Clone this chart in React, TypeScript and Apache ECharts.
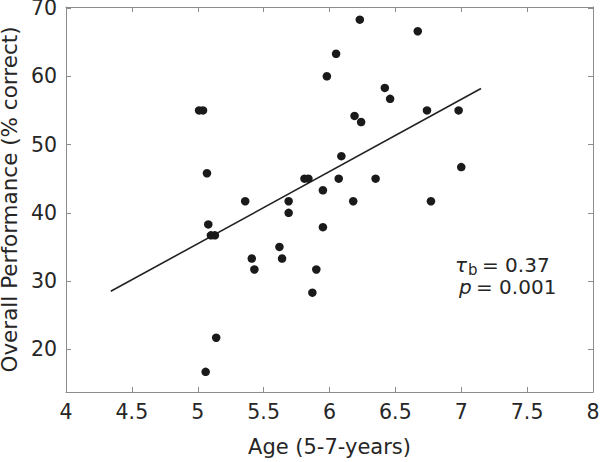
import React, { useEffect, useRef } from "react";
import * as echarts from "echarts";

const ages: number[] = [
  5.01, 5.04, 5.98, 5.07, 5.36, 5.69, 5.69, 5.81, 5.84, 5.95, 5.08, 5.95,
  6.23, 6.67, 6.05, 6.42, 6.46, 6.74, 6.98, 6.19, 6.24, 6.09, 7.0, 6.07,
  6.35, 6.18, 6.77, 5.1, 5.13, 5.62, 5.41, 5.64, 5.43, 5.9, 5.87, 5.14, 5.06,
];
const performance: number[] = [
  55, 55, 60, 45.8, 41.7, 41.7, 40, 45, 45, 43.3, 38.3, 37.9,
  68.3, 66.6, 63.3, 58.3, 56.7, 55, 55, 54.2, 53.3, 48.3, 46.7, 45,
  45, 41.7, 41.7, 36.7, 36.7, 35, 33.3, 33.3, 31.7, 31.7, 28.3, 21.7, 16.7,
];
const fitX: number[] = [4.34, 7.15];
const fitY: number[] = [28.5, 58.2];
const yTicks: number[] = [20, 30, 40, 50, 60, 70];

const FONT = "DejaVu Sans";
const AXIS_COLOR = "#8c8c8c";
const TEXT_COLOR = "#262626";

export default function App() {
  const ref = useRef<HTMLDivElement>(null);
  useEffect(() => {
    if (!ref.current) return;
    const chart = echarts.init(ref.current, undefined, { renderer: "svg" });
    const axisLineStyle = { show: true, lineStyle: { color: AXIS_COLOR, width: 1 } };
    const tickStyle = { show: true, inside: true, length: 5, lineStyle: { color: AXIS_COLOR, width: 1 } };
    chart.setOption({
      animation: false,
      backgroundColor: "#ffffff",
      grid: { left: 66, right: 7, top: 7, bottom: 70, containLabel: false, outerBoundsMode: "none" },
      xAxis: [
        {
          type: "value",
          min: 4,
          max: 8,
          interval: 0.5,
          name: "Age (5-7-years)",
          nameLocation: "middle",
          nameGap: 44,
          nameTextStyle: { fontFamily: FONT, fontSize: 21, color: TEXT_COLOR },
          axisLine: axisLineStyle,
          axisTick: tickStyle,
          axisLabel: { fontFamily: FONT, fontSize: 20.5, color: TEXT_COLOR, margin: 9 },
          splitLine: { show: false },
        },
        {
          type: "value",
          position: "top",
          min: 4,
          max: 8,
          interval: 0.5,
          axisLine: axisLineStyle,
          axisTick: tickStyle,
          axisLabel: { show: false },
          splitLine: { show: false },
        },
      ],
      yAxis: [
        {
          type: "value",
          min: 13.75,
          max: 70.15,
          name: "Overall Performance (% correct)",
          nameLocation: "middle",
          nameGap: 45,
          nameTextStyle: { fontFamily: FONT, fontSize: 21.5, lineHeight: 18, color: TEXT_COLOR },
          axisLine: axisLineStyle,
          axisTick: { ...tickStyle, customValues: yTicks },
          axisLabel: {
            fontFamily: FONT,
            fontSize: 20.5,
            lineHeight: 16,
            color: TEXT_COLOR,
            margin: 9,
            customValues: yTicks,
          },
          splitLine: { show: false },
        },
        {
          type: "value",
          position: "right",
          min: 13.75,
          max: 70.15,
          axisLine: axisLineStyle,
          axisTick: { ...tickStyle, customValues: yTicks },
          axisLabel: { show: false, customValues: yTicks },
          splitLine: { show: false },
        },
      ],
      series: [
        {
          type: "line",
          data: fitX.map((x, i) => [x, fitY[i]]),
          symbol: "none",
          lineStyle: { color: "#222222", width: 1.6 },
          silent: true,
          z: 2,
        },
        {
          type: "scatter",
          data: ages.map((a, i) => [a, performance[i]]),
          symbol: "circle",
          symbolSize: 8.5,
          itemStyle: { color: "#1a1a1a", opacity: 1 },
          z: 3,
        },
      ],
      graphic: [
        {
          type: "text",
          left: 455,
          top: 255,
          style: { text: "τ", font: `italic 20px "${FONT}"`, fill: TEXT_COLOR },
        },
        {
          type: "text",
          left: 468,
          top: 262,
          style: { text: "b", font: `15px "${FONT}"`, fill: TEXT_COLOR },
        },
        {
          type: "text",
          left: 482,
          top: 255,
          style: { text: "= 0.37", font: `20px "${FONT}"`, fill: TEXT_COLOR },
        },
        {
          type: "text",
          left: 459,
          top: 277,
          style: { text: "p", font: `italic 20px "${FONT}"`, fill: TEXT_COLOR },
        },
        {
          type: "text",
          left: 476,
          top: 277,
          style: { text: "= 0.001", font: `20px "${FONT}"`, fill: TEXT_COLOR },
        },
      ],
    });
    return () => chart.dispose();
  }, []);
  return (
    <div
      ref={ref}
      style={{ position: "absolute", left: 0, top: 0, width: 600, height: 462 }}
    />
  );
}
